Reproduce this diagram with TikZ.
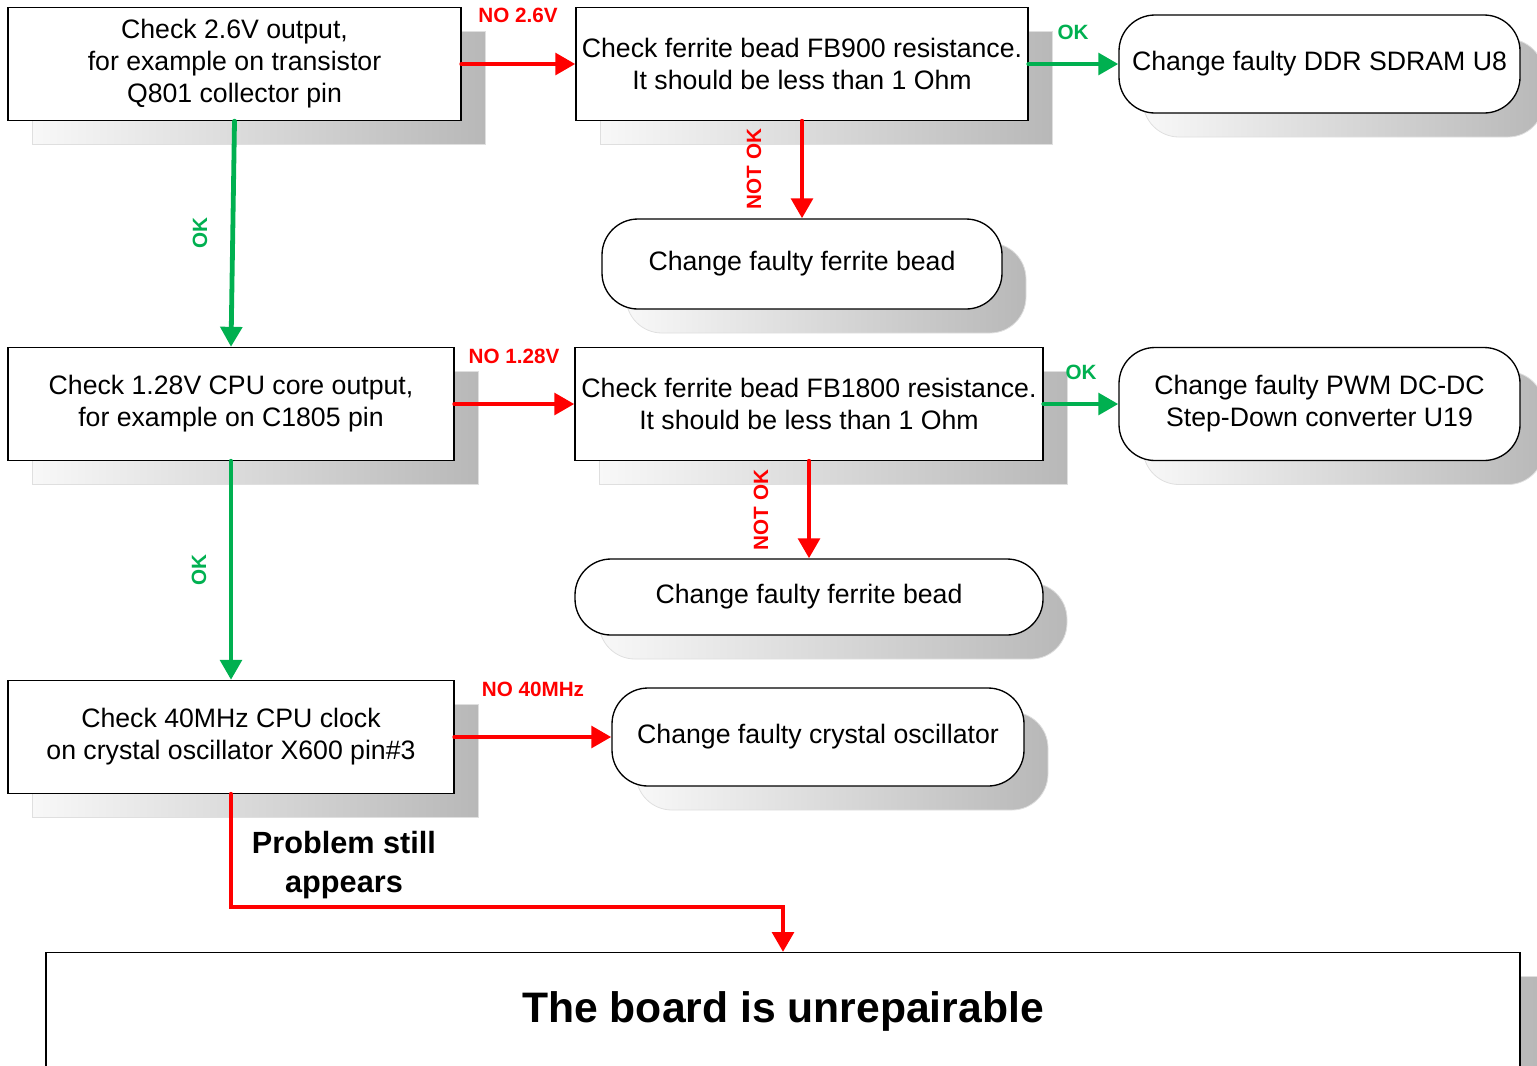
\documentclass[tikz,border=0pt]{standalone}
\usepackage{fontspec}
\setmainfont{Liberation Sans}
\usetikzlibrary{arrows.meta,shadows,calc}
\definecolor{okgreen}{HTML}{00B050}
\definecolor{nored}{HTML}{FF0000}
\definecolor{shdark}{HTML}{B8B8B8}
\definecolor{shlight}{HTML}{F8F8F8}
\tikzset{
  shd/.style={general shadow={shadow xshift=18pt, shadow yshift=-18pt, left color=shlight, right color=shdark, draw=gray!25, line width=0.6pt}},
  box/.style={draw=black, line width=1pt, fill=white, shd, font=\fontsize{20}{24}\selectfont, align=center, inner sep=2pt},
  rbox/.style={box, rounded corners=27pt},
  noarrow/.style={draw=nored, line width=3.6pt, line cap=round, -{Triangle[length=15pt,width=16pt]}},
  okarrow/.style={draw=okgreen, line width=3.6pt, line cap=round, -{Triangle[length=15pt,width=16pt]}},
  nolab/.style={text=nored, font=\bfseries\fontsize{15.5}{18}\selectfont, inner sep=0pt},
  oklab/.style={text=okgreen, font=\bfseries\fontsize{15.5}{18}\selectfont, inner sep=0pt},
}
\begin{document}
\begin{tikzpicture}[x=0.75pt, y=-0.75pt]
\useasboundingbox (0,0) rectangle (1537,1065);
\clip (0,0) rectangle (1537,1065);

% row 1
\node (A1) [box, minimum width=339.75pt, minimum height=84.75pt] at (234.5,64) {Check 2.6V output,\\for example on transistor\\Q801 collector pin};
\node (B1) [box, minimum width=339pt, minimum height=84.75pt] at (802,64) {Check ferrite bead FB900 resistance.\\It should be less than 1 Ohm};
\node (C1) [rbox, minimum width=300.75pt, minimum height=73.5pt] at (1319.5,64) {Change faulty DDR SDRAM U8};
\node (D1) [rbox, minimum width=300pt, minimum height=67.5pt] at (802,264) {Change faulty ferrite bead};

% row 2
\node (A2) [box, minimum width=334.5pt, minimum height=84.75pt] at (231,404) {Check 1.28V CPU core output,\\for example on C1805 pin};
\node (B2) [box, minimum width=351pt, minimum height=84.75pt] at (809,404) {Check ferrite bead FB1800 resistance.\\It should be less than 1 Ohm};
\node (C2) [rbox, minimum width=300.75pt, minimum height=84.75pt] at (1319.5,404) {Change faulty PWM DC-DC\\Step-Down converter U19};
\node (D2) [rbox, minimum width=351pt, minimum height=57pt] at (809,597) {Change faulty ferrite bead};

% row 3
\node (A3) [box, minimum width=334.5pt, minimum height=84.75pt] at (231,737) {Check 40MHz CPU clock\\on crystal oscillator X600 pin\#3};
\node (C3) [rbox, minimum width=309pt, minimum height=73.5pt] at (818,737) {Change faulty crystal oscillator};

% end box
\node (E) [box, anchor=north, minimum width=1105.5pt, inner ysep=12.5pt, text height=40pt, text depth=100pt,
  font=\bfseries\fontsize{32}{38}\selectfont] at (783,952) {The board is unrepairable};

% connectors
\draw[noarrow] (A1.east) -- (B1.west);
\draw[okarrow] (B1.east) -- (C1.west);
\draw[noarrow] (B1.south) -- (D1.north);
\draw[okarrow] (A1.south) -- (A2.north);
\draw[noarrow] (A2.east) -- (B2.west);
\draw[okarrow] (B2.east) -- (C2.west);
\draw[noarrow] (B2.south) -- (D2.north);
\draw[okarrow] (A2.south) -- (A3.north);
\draw[noarrow] (A3.east) -- (C3.west);
\coordinate (bend) at (783,907);
\draw[noarrow] (A3.south) |- (bend) -- (E.north);

% labels
\node (l1) [nolab] at (518,15) {NO 2.6V};
\node (l2) [oklab] at (1073,32) {OK};
\node (l3) [nolab, rotate=90] at (754,169) {NOT OK};
\node (l4) [oklab, rotate=90] at (200,233) {OK};
\node (l5) [nolab] at (514,356) {NO 1.28V};
\node (l6) [oklab] at (1081,372) {OK};
\node (l7) [nolab, rotate=90] at (761,510) {NOT OK};
\node (l8) [oklab, rotate=90] at (199,570) {OK};
\node (l9) [nolab] at (533,689) {NO 40MHz};
\node (l10) [align=center, font=\bfseries\fontsize{23}{29}\selectfont, inner sep=0pt] at (344,865) {Problem still\\appears};
\end{tikzpicture}
\end{document}
